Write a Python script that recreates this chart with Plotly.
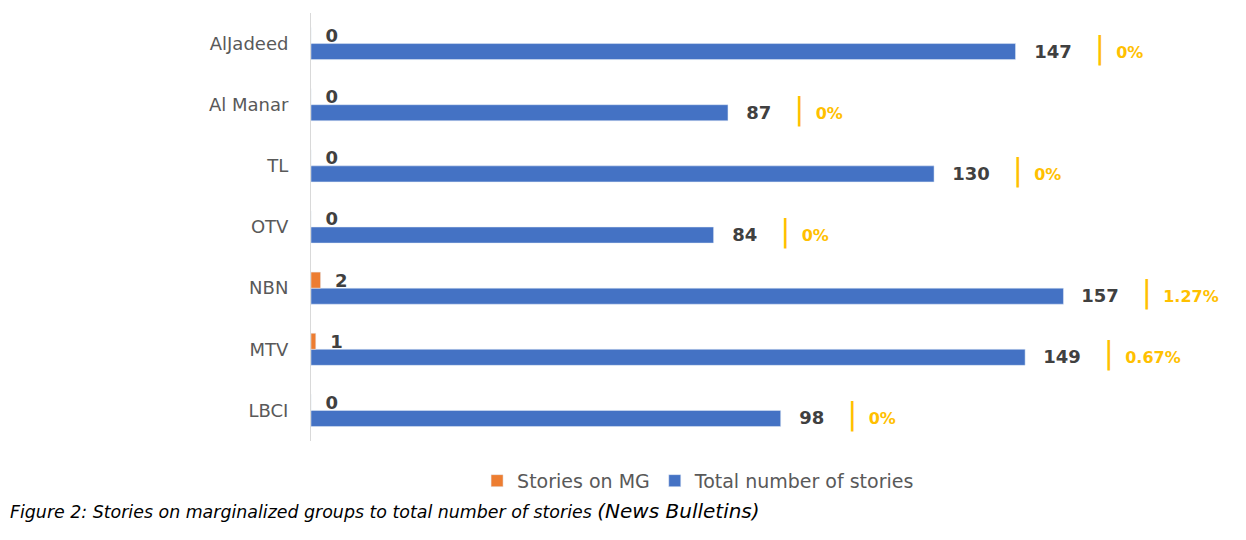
import plotly.graph_objects as go

categories = ["AlJadeed", "Al Manar", "TL", "OTV", "NBN", "MTV", "LBCI"]
stories_mg = [0, 0, 0, 0, 2, 1, 0]
total_stories = [147, 87, 130, 84, 157, 149, 98]

BLUE = "#4472C4"
ORANGE = "#ED7D31"
GOLD = "#FFC000"
NB = "\u00a0"


def pct(m, t):
    return "0%" if m == 0 else f"{m / t * 100:.2f}%"


orange_text = [f"{NB*2}<b>{m}</b>" for m in stories_mg]

fig = go.Figure()
fig.add_trace(go.Bar(
    y=categories, x=total_stories, orientation="h", name="Total number of stories",
    marker=dict(color=BLUE), legendrank=2, hoverinfo="skip",
))
fig.add_trace(go.Bar(
    y=categories, x=stories_mg, orientation="h", name="Stories on MG",
    marker=dict(color=ORANGE), text=orange_text, texttemplate="%{text}",
    textposition="outside", constraintext="none", cliponaxis=False,
    textfont=dict(family="DejaVu Sans", size=18, color="#404040"),
    legendrank=1, hoverinfo="skip",
))

for cat, m, t in zip(categories, stories_mg, total_stories):
    fig.add_annotation(
        x=t, y=cat, xref="x", yref="y", xanchor="left", yanchor="middle",
        xshift=-1, yshift=-4, showarrow=False,
        text=(f"{NB*3}<b>{t}</b>{NB*4}<span style='color:{GOLD};font-size:30px'>|</span>{NB*2}"
              f"<span style='color:{GOLD};font-size:16px'><b>{pct(m, t)}</b></span>"),
        font=dict(family="DejaVu Sans", size=18, color="#404040"),
    )

fig.update_layout(
    width=1238, height=532,
    margin=dict(l=303, r=10, t=5, b=99),
    paper_bgcolor="white", plot_bgcolor="white",
    barmode="group", bargap=0.475, bargroupgap=0,
    showlegend=True,
    legend=dict(orientation="h", x=0.419, xanchor="center", y=-0.093, yanchor="middle",
                font=dict(family="DejaVu Sans", size=19, color="#595959"),
                itemwidth=30, traceorder="normal"),
    title=dict(
        text="<i>Figure 2: Stories on marginalized groups to total number of stories</i> "
             "<span style='font-size:20px'><i>(News Bulletins)</i></span>",
        x=2 / 1238, xanchor="left", xref="container",
        y=1 - 504 / 532, yanchor="middle", yref="container",
        font=dict(family="DejaVu Sans", size=17.4, color="black"),
    ),
    xaxis=dict(range=[0, 193], showgrid=False, zeroline=False, showticklabels=False,
               showline=False, ticks=""),
    yaxis=dict(categoryorder="array", categoryarray=categories[::-1],
               showgrid=False, zeroline=False, showline=True, linecolor="#d9d9d9", linewidth=1,
               ticks="", ticklabelstandoff=18,
               tickfont=dict(family="DejaVu Sans", size=18, color="#595959")),
)

fig.write_html("out.html")
